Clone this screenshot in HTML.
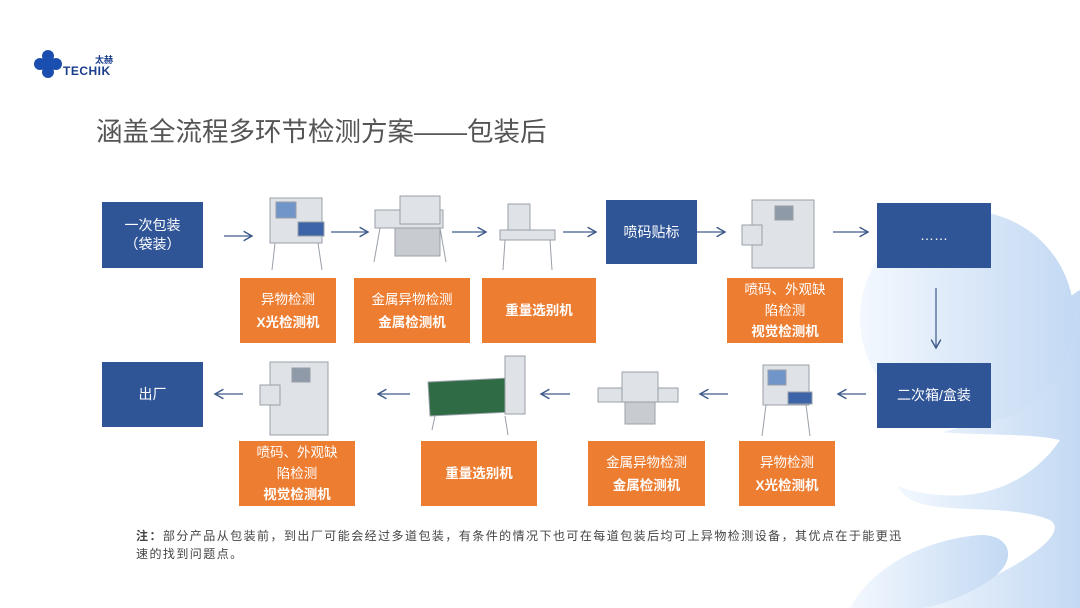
<!DOCTYPE html>
<html><head><meta charset="utf-8"><style>
body{margin:0;width:1080px;height:608px;overflow:hidden;background:#fff;position:relative;font-family:"Liberation Sans","Noto Sans CJK SC",sans-serif}
.a{position:absolute}
.b{position:absolute;background:#2f5597;color:#fff;font-size:14px;display:flex;align-items:center;justify-content:center;text-align:center;line-height:19px}
.o{position:absolute;background:#ed7d31;color:#fff;font-size:13.5px;display:flex;flex-direction:column;align-items:center;justify-content:center;text-align:center;line-height:23px}
.o b{font-weight:bold}
</style></head><body>
<svg class="a" style="left:0;top:0" width="1080" height="608">
<defs>
<linearGradient id="g" x1="0" y1="0" x2="1" y2="0"><stop offset="0" stop-color="#f3f8fe"/><stop offset="1" stop-color="#c3d9f3"/></linearGradient>
<marker id="m" markerWidth="10" markerHeight="10" refX="8" refY="5" orient="auto"><path d="M1,1 L8,5 L1,9" fill="none" stroke="#3d5a8a" stroke-width="1.2"/></marker>
</defs>
<path d="M1040,330 C1060,300 1080,290 1080,290 L1080,608 L900,608 C960,600 1080,540 1050,520 C1000,500 920,520 900,490 C880,450 930,430 1000,420 Z" fill="url(#g)"/>
<path d="M850,608 C870,570 920,540 980,535 C1010,534 1020,560 990,580 C960,600 930,608 920,608 Z" fill="url(#g)"/>
<circle cx="967" cy="318" r="107" fill="url(#g)"/>
<path d="M870,420 C850,450 870,490 940,495 C1000,500 1040,470 1060,440 C1020,430 930,440 870,420 Z" fill="#fff"/>
<g stroke="#3d5a8a" stroke-width="1.2" marker-end="url(#m)">
<line x1="224" y1="236" x2="252" y2="236"/><line x1="331" y1="232" x2="368" y2="232"/>
<line x1="452" y1="232" x2="486" y2="232"/><line x1="563" y1="232" x2="596" y2="232"/>
<line x1="690" y1="232" x2="725" y2="232"/><line x1="833" y1="232" x2="868" y2="232"/>
<line x1="936" y1="288" x2="936" y2="348"/>
<line x1="866" y1="394" x2="838" y2="394"/><line x1="728" y1="394" x2="700" y2="394"/>
<line x1="570" y1="394" x2="541" y2="394"/><line x1="410" y1="394" x2="378" y2="394"/>
<line x1="243" y1="394" x2="215" y2="394"/>
</g>
<g fill="#dfe2e6" stroke="#9aa0a8" stroke-width="1">
<rect x="270" y="198" width="52" height="45"/><rect x="276" y="202" width="20" height="16" fill="#6f95c9"/><rect x="298" y="222" width="26" height="14" fill="#3e64a8"/><path d="M275,243 L318,243 L322,270 M275,243 L272,270" fill="none"/>
<rect x="375" y="210" width="68" height="18"/><rect x="400" y="196" width="40" height="28"/><rect x="395" y="228" width="45" height="28" fill="#c8cbd0"/><path d="M380,228 L374,262 M440,228 L446,262" fill="none"/>
<rect x="508" y="204" width="22" height="30"/><rect x="500" y="230" width="55" height="10"/><path d="M505,240 L503,270 M550,240 L552,270" fill="none"/>
<rect x="752" y="200" width="62" height="68"/><rect x="775" y="206" width="18" height="14" fill="#8e9aa8"/><rect x="742" y="225" width="20" height="20"/>
<rect x="270" y="362" width="58" height="73"/><rect x="292" y="368" width="18" height="14" fill="#8e9aa8"/><rect x="260" y="385" width="20" height="20"/>
<path d="M428,382 L510,378 L512,412 L430,416 Z" fill="#2f6b45"/><rect x="505" y="356" width="20" height="58"/><path d="M435,416 L432,430 M505,416 L508,435" fill="none"/>
<rect x="598" y="388" width="80" height="14"/><rect x="622" y="372" width="36" height="30"/><rect x="625" y="402" width="30" height="22" fill="#c8cbd0"/>
<rect x="763" y="365" width="46" height="40"/><rect x="768" y="370" width="18" height="15" fill="#6f95c9"/><rect x="788" y="392" width="24" height="12" fill="#3e64a8"/><path d="M766,405 L762,436 M806,405 L810,436" fill="none"/>
</g>
<g fill="#1a4fb0"><circle cx="48" cy="56" r="6"/><circle cx="40" cy="64" r="6"/><circle cx="56" cy="64" r="6"/><circle cx="48" cy="72" r="6"/><rect x="44" y="60" width="8" height="8"/></g>
</svg>
<div class="a" style="left:95px;top:53px;font-size:9px;font-weight:bold;color:#1a3e8a">太赫</div>
<div class="a" style="left:63px;top:64px;font-size:12px;font-weight:bold;color:#1a3e8a;letter-spacing:0.5px">TECHIK</div>
<div class="a" style="left:96px;top:110px;font-size:26.5px;color:#555">涵盖全流程多环节检测方案——包装后</div>
<div class="b" style="left:102px;top:202px;width:101px;height:66px">一次包装<br>（袋装）</div>
<div class="b" style="left:606px;top:200px;width:91px;height:64px">喷码贴标</div>
<div class="b" style="left:877px;top:203px;width:114px;height:65px">……</div>
<div class="b" style="left:877px;top:363px;width:114px;height:65px">二次箱/盒装</div>
<div class="b" style="left:102px;top:362px;width:101px;height:65px">出厂</div>
<div class="o" style="left:240px;top:278px;width:96px;height:65px"><span>异物检测</span><b>X光检测机</b></div>
<div class="o" style="left:354px;top:278px;width:116px;height:65px"><span>金属异物检测</span><b>金属检测机</b></div>
<div class="o" style="left:482px;top:278px;width:114px;height:65px"><b>重量选别机</b></div>
<div class="o" style="left:727px;top:278px;width:116px;height:65px;line-height:21px"><span>喷码、外观缺</span><span>陷检测</span><b>视觉检测机</b></div>
<div class="o" style="left:239px;top:441px;width:116px;height:65px;line-height:21px"><span>喷码、外观缺</span><span>陷检测</span><b>视觉检测机</b></div>
<div class="o" style="left:421px;top:441px;width:116px;height:65px"><b>重量选别机</b></div>
<div class="o" style="left:588px;top:441px;width:117px;height:65px"><span>金属异物检测</span><b>金属检测机</b></div>
<div class="o" style="left:739px;top:441px;width:96px;height:65px"><span>异物检测</span><b>X光检测机</b></div>
<div class="a" style="left:136px;top:527px;width:820px;font-size:12px;line-height:18px;color:#444;letter-spacing:1.45px;white-space:nowrap"><b>注：</b>部分产品从包装前，到出厂可能会经过多道包装，有条件的情况下也可在每道包装后均可上异物检测设备，其优点在于能更迅<br>速的找到问题点。</div>
</body></html>
